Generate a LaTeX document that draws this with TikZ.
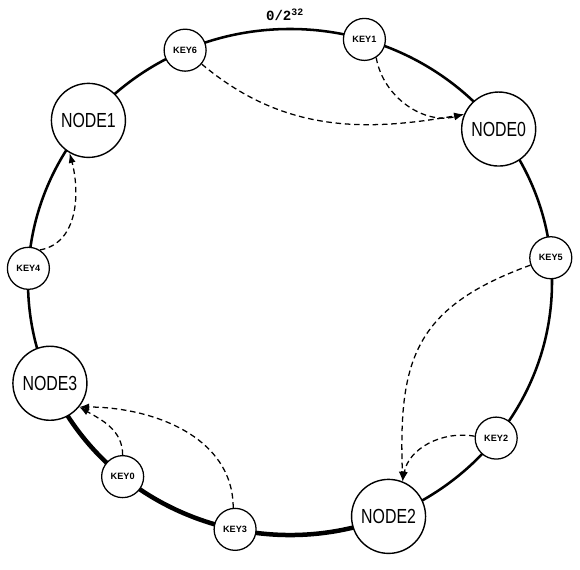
\documentclass[tikz,border=0pt]{standalone}
\usepackage{fontspec}
\setsansfont{Liberation Sans}
\setmonofont{Liberation Mono}
\usetikzlibrary{arrows.meta}
\usetikzlibrary{calc}

\newcommand{\narrowtext}[1]{\scalebox{0.78}[1]{#1}}

\tikzset{
	bignode/.style={circle, draw, fill=white, line width=1pt, minimum size=1.85cm, inner sep=0pt, font=\sffamily\fontsize{14.5}{16}\selectfont},
	keynode/.style={circle, draw, fill=white, line width=0.9pt, minimum size=1.05cm, inner sep=0pt, font=\sffamily\bfseries\fontsize{6.5}{8}\selectfont},
	ring/.style={line width=1.8pt},
	hop/.style={dash pattern=on 4pt off 2.6pt, line width=0.9pt, -{Latex[length=7pt,width=5pt]}}
}

\begin{document}
\begin{tikzpicture}[x=0.025cm,y=0.025cm]
\useasboundingbox (0,0) rectangle (580,570);
\coordinate (O) at (290,288);
\draw[ring] (O) ellipse [x radius=262, y radius=253];
\draw[ring, line width=3.2pt] ([shift={(203:262 and 253)}]O) arc [start angle=203, end angle=292, x radius=262, y radius=253];

\foreach \name/\ang/\txt in {N0/37.2/NODE0, N1/140.3/NODE1, N2/-67.9/NODE2, N3/203.6/NODE3}
	\node[bignode] (\name) at ([shift={(\ang:262 and 253)}]O) {\narrowtext{\txt}};
\foreach \name/\ang/\txt in {K0/230.3/KEY0, K1/73.5/KEY1, K2/-38.1/KEY2, K3/257.9/KEY3, K4/176.9/KEY4, K5/5.5/KEY5, K6/113.6/KEY6}
	\node[keynode] (\name) at ([shift={(\ang:262 and 253)}]O) {\txt};

\node[font=\ttfamily\bfseries\fontsize{10}{12}\selectfont] (zero) at (285,555) {0/2\textsuperscript{32}};

\draw[hop] (K1.-57) to[out=-80,in=195] (N0.157);
\draw[hop] (K6.-40) to[out=-40,in=190] (N0.157);
\draw[hop] (K4.58) to[out=10,in=-75] (N1.240);
\draw[hop] (K0.90) to[out=90,in=-30] (N3.-39);
\draw[hop] (K3.95) to[out=90,in=0] (N3.-39);
\draw[hop] (K5.200) to[out=200,in=92,looseness=1.25] (N2.68);
\draw[hop] (K2.175) to[out=170,in=80] (N2.68);
\end{tikzpicture}
\end{document}
